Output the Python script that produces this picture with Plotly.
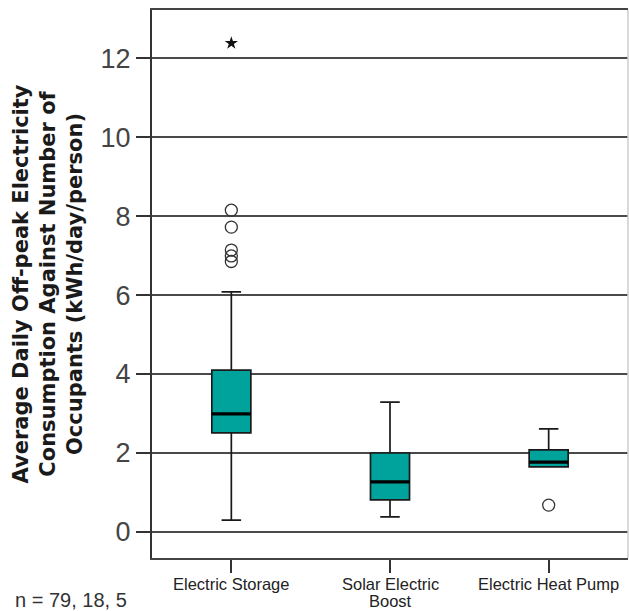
import plotly.graph_objects as go

# Heating system groups and their box-plot statistics (kWh/day/person)
categories = ["Electric Storage", "Solar Electric\nBoost", "Electric Heat Pump"]
q1 = [2.51, 0.81, 1.65]
median = [2.99, 1.27, 1.77]
q3 = [4.10, 2.00, 2.08]
lower_whisker = [0.30, 0.38, 1.65]
upper_whisker = [6.08, 3.29, 2.61]

# Outliers (circles) and extreme values (stars)
outlier_group = [0, 0, 0, 0, 0, 2]
outlier_value = [8.15, 7.72, 7.14, 6.99, 6.85, 0.68]
extreme_group = [0]
extreme_value = [12.38]

y_ticks = [0, 2, 4, 6, 8, 10, 12]
sample_note = "n = 79, 18, 5"
y_title = ("Average Daily Off-peak Electricity<br>Consumption Against Number of<br>"
           "Occupants (kWh/day/person)")

box_width = 0.246
fill = "#00A39C"
ink = "#1a1a1a"
font_family = "Liberation Sans, Arial, sans-serif"

xs = list(range(len(categories)))
fig = go.Figure()

fig.add_trace(go.Box(
    x=xs, q1=q1, median=median, q3=q3,
    lowerfence=lower_whisker, upperfence=upper_whisker,
    width=box_width, whiskerwidth=0.5,
    fillcolor=fill, line=dict(color=ink, width=1.7),
    boxpoints=False, showlegend=False, hoverinfo="skip",
))

# Thick median bars drawn over each box
mx, my = [], []
for i, m in zip(xs, median):
    mx += [i - box_width / 2, i + box_width / 2, None]
    my += [m, m, None]
fig.add_trace(go.Scatter(x=mx, y=my, mode="lines",
                         line=dict(color="black", width=3.2),
                         showlegend=False, hoverinfo="skip"))

fig.add_trace(go.Scatter(
    x=outlier_group, y=outlier_value, mode="markers",
    marker=dict(symbol="circle-open", size=12, color="#333333",
                line=dict(width=1.3, color="#333333")),
    showlegend=False, hoverinfo="skip"))

fig.add_trace(go.Scatter(
    x=extreme_group, y=extreme_value, mode="markers",
    marker=dict(symbol="star", size=10, color="#111111",
                line=dict(width=0)),
    showlegend=False, hoverinfo="skip"))

fig.update_layout(
    width=629, height=611,
    margin=dict(l=152, r=1, t=10, b=53),
    paper_bgcolor="white", plot_bgcolor="white",
    font=dict(family=font_family, color="#333333"),
    xaxis=dict(
        range=[-0.5, 2.5], tickvals=xs, ticktext=[""] * len(xs),
        ticks="outside", ticklen=13, tickwidth=1.5, tickcolor="#333333",
        showline=True, linecolor="#444444", linewidth=2, mirror=True,
        showgrid=False, zeroline=False, automargin=False,
    ),
    yaxis=dict(
        range=[-0.66, 13.22], tickvals=y_ticks,
        ticks="outside", ticklen=14, tickwidth=1.5, tickcolor="#333333",
        tickfont=dict(size=27, color="#444444"),
        showline=True, linecolor="#333333", linewidth=2,
        showgrid=True, gridcolor="#4a4a4a", gridwidth=1.6,
        zeroline=False, automargin=False,
        title=dict(text="<b>" + y_title + "</b>",
                   font=dict(size=21, color="#1a1a1a",
                             family="DejaVu Sans, sans-serif"),
                   standoff=12),
    ),
)

# Category names under each tick, with tight line spacing
for i, c in zip(xs, categories):
    for k, line in enumerate(c.split("\n")):
        fig.add_annotation(text=line, x=i, xref="x", y=0, yref="paper",
                           yshift=-25 - 17 * k, yanchor="middle", height=19,
                           showarrow=False,
                           font=dict(size=16.5, color="#222222", family=font_family))

# Faint right-hand frame edge
fig.add_shape(type="line", xref="paper", yref="paper", x0=1, x1=1, y0=0, y1=1,
              line=dict(color="#cccccc", width=1.5))

fig.add_annotation(text=sample_note, xref="paper", yref="paper",
                   x=0, xshift=-139, y=0, yshift=-42, xanchor="left", yanchor="middle",
                   showarrow=False, font=dict(size=20, color="#333333", family=font_family))

fig.write_html("out.html")
